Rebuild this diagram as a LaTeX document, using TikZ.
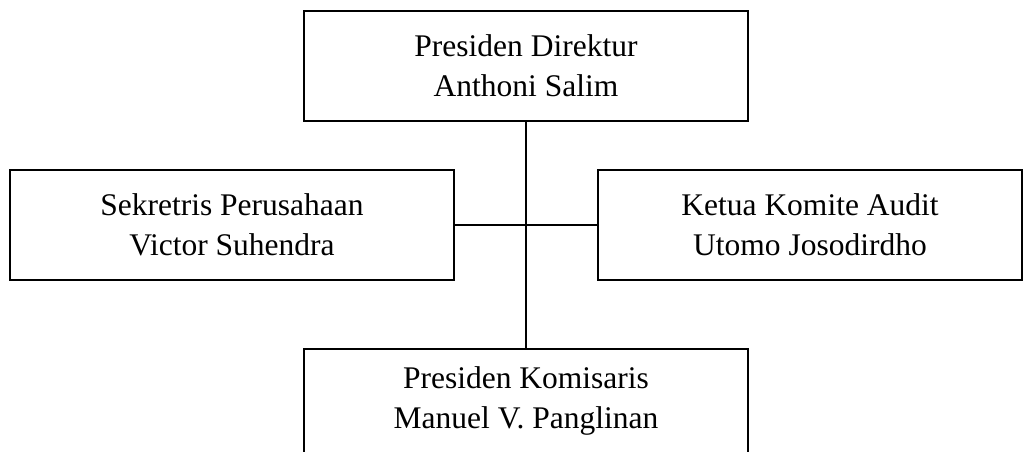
\documentclass[tikz,border=0pt]{standalone}
\usepackage{fontspec}
\setmainfont{Liberation Serif}
\begin{document}
\begin{tikzpicture}[x=1pt,y=-1pt,
  orgbox/.style={draw, line width=1.8pt, rectangle, minimum width=444pt,
    minimum height=110pt, inner sep=0pt, align=center,
    font=\fontsize{31.5}{40}\selectfont},
  link/.style={line width=2pt}]
\useasboundingbox (0,0) rectangle (1031,452);
\clip (0,0) rectangle (1031,452);
\node[orgbox] (dir) at (526,66) {Presiden Direktur\\Anthoni Salim};
\node[orgbox] (sek) at (232,225) {Sekretris Perusahaan\\Victor Suhendra};
\node[orgbox, minimum width=424pt] (aud) at (810,225) {Ketua Komite Audit\\Utomo Josodirdho};
\node[orgbox, anchor=north, minimum height=104pt] (kom) at (526,348) {Presiden Komisaris\\Manuel V. Panglinan};
\draw[link] (dir.south) -- (kom.north);
\draw[link] (sek.east) -- (aud.west);
\end{tikzpicture}
\end{document}
